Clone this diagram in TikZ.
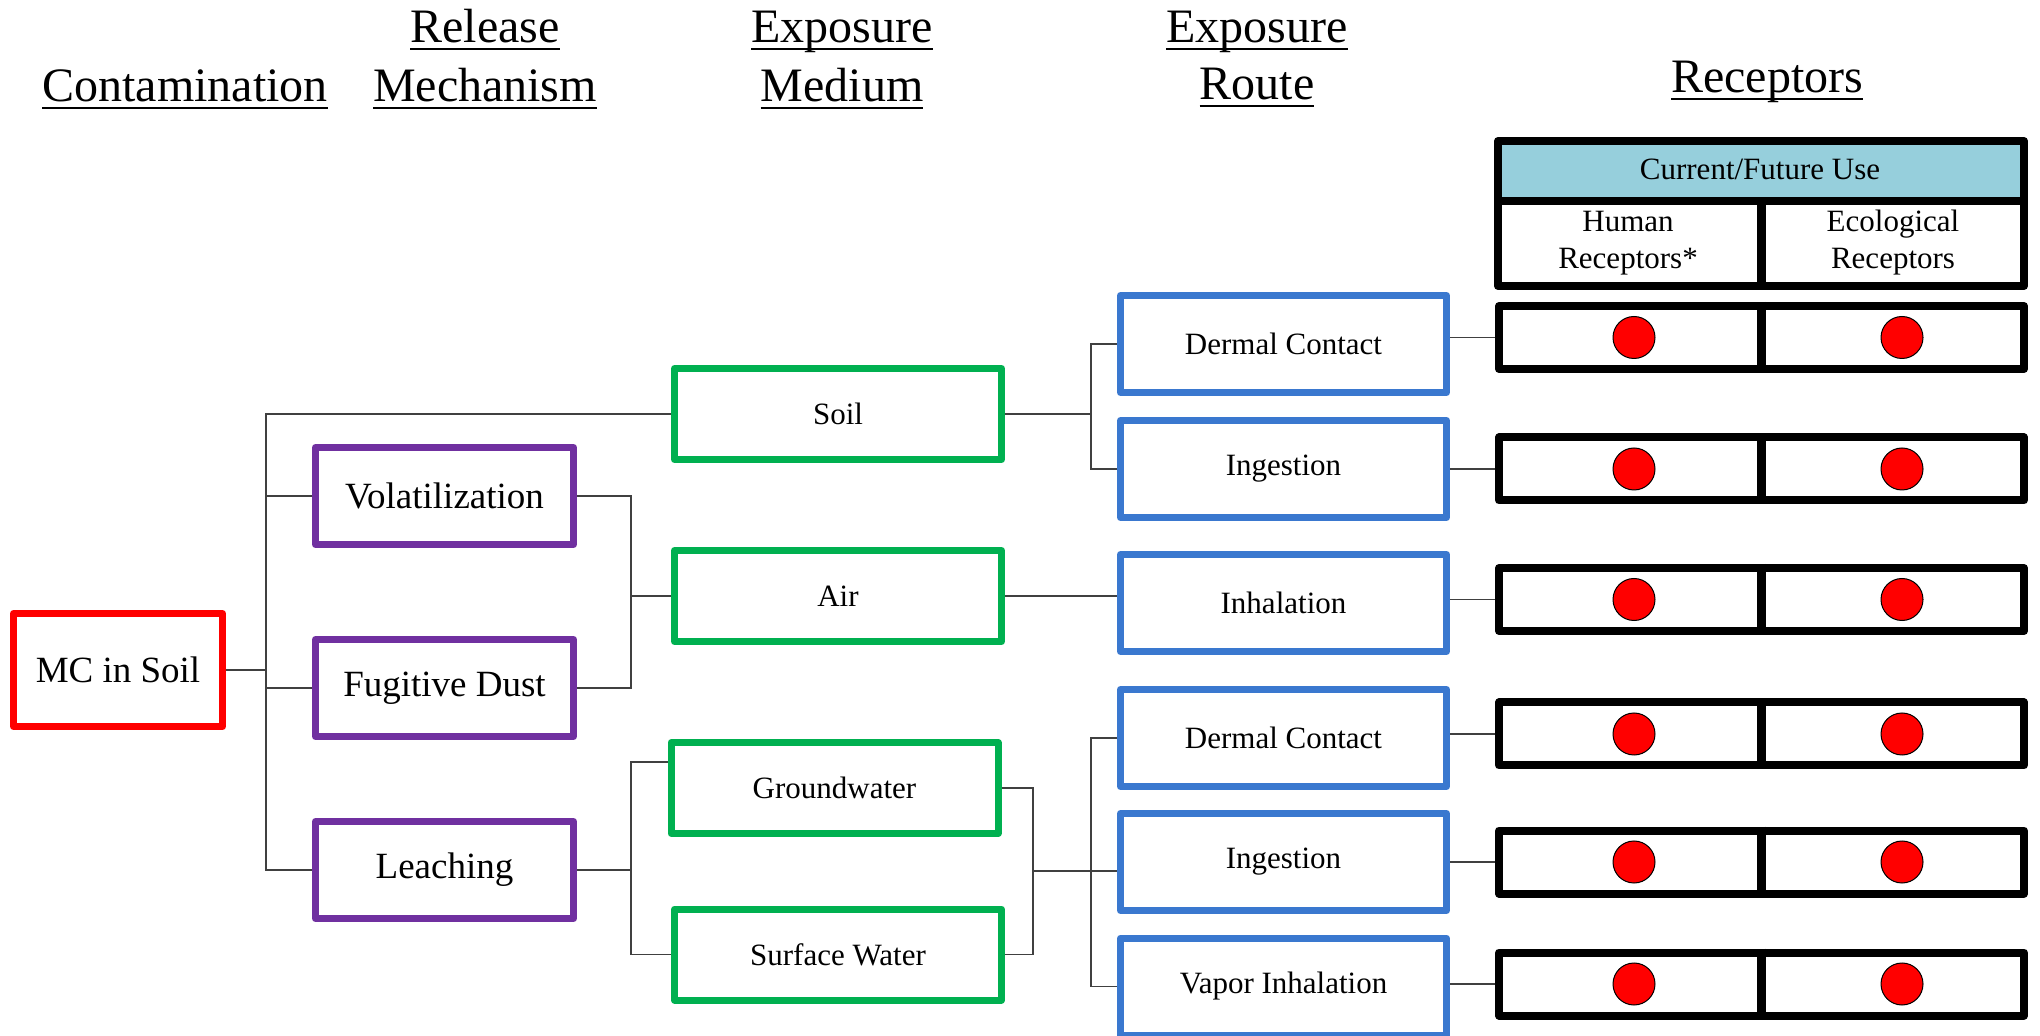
\documentclass[tikz,border=0pt]{standalone}
\usepackage{fontspec}
\setmainfont{Liberation Serif}
\newfontfamily\tnr{Liberation Serif}
\usetikzlibrary{calc}
\definecolor{cred}{HTML}{FF0000}
\definecolor{cpurple}{HTML}{7030A0}
\definecolor{cgreen}{HTML}{00B050}
\definecolor{cblue}{HTML}{3A78CF}
\definecolor{clight}{HTML}{96CFDC}
\newcommand\ulc[1]{\setbox0\hbox{#1}\rlap{\rule[-3.5pt]{\wd0}{1pt}}\box0}
\tikzset{
  title/.style={anchor=base, inner sep=0pt, font=\tnr\fontsize{24}{28}\selectfont},
  small/.style={anchor=base, inner sep=0pt, font=\tnr\fontsize{15.5}{18}\selectfont},
  box/.style={draw, line width=3.5pt, line join=round, fill=white, inner sep=0pt, align=center},
  contbox/.style={box, draw=cred, minimum width=104.5pt, minimum height=56.5pt, font=\tnr\fontsize{18.5}{22}\selectfont},
  relbox/.style={box, draw=cpurple, minimum width=129pt, minimum height=48.5pt, font=\tnr\fontsize{18.5}{22}\selectfont},
  medbox/.style={box, draw=cgreen, minimum width=163.5pt, minimum height=45.5pt, font=\tnr\fontsize{15.5}{18}\selectfont},
  routebox/.style={box, draw=cblue, minimum width=163pt, minimum height=48.5pt, font=\tnr\fontsize{15.5}{18}\selectfont},
  rowbox/.style={draw=black, line width=4pt, line join=round, inner sep=0pt, minimum width=262.5pt, minimum height=31.5pt},
  dot/.style={circle, draw=black, line width=0.5pt, fill=cred, minimum size=21pt, inner sep=0pt},
  conn/.style={draw=black!75, line width=0.7pt},
}
\begin{document}
\begin{tikzpicture}[x=0.5pt, y=-0.5pt]
\useasboundingbox (0,0) rectangle (2040,1036);

% titles
\node[title] (tcont) at (185,102) {\ulc{Contamination}};
\node[title] (trel1) at (485,43) {\ulc{Release}};
\node[title] (trel2) at (485,102) {\ulc{Mechanism}};
\node[title] (tmed1) at (842,43) {\ulc{Exposure}};
\node[title] (tmed2) at (842,102) {\ulc{Medium}};
\node[title] (trt1) at (1257,43) {\ulc{Exposure}};
\node[title] (trt2) at (1257,100) {\ulc{Route}};
\node[title] (trec) at (1767,93) {\ulc{Receptors}};

% boxes
\node[contbox] (mc) at (118,670) {MC in Soil};
\node[relbox] (vol) at (444.5,496) {Volatilization};
\node[relbox] (fug) at (444.5,688) {Fugitive Dust};
\node[relbox] (lea) at (444.5,870) {Leaching};
\node[medbox] (soil) at (838,414) {Soil};
\node[medbox] (air) at (838,596) {Air};
\node[medbox] (gw) at (834.5,788) {Groundwater};
\node[medbox] (sw) at (838,954.5) {Surface Water};
\node[routebox] (dc1) at (1283.5,344) {Dermal Contact};
\node[routebox] (ing1) at (1283.5,469) {Ingestion};
\node[routebox] (inh) at (1283.5,603) {Inhalation};
\node[routebox] (dc2) at (1283.5,738) {Dermal Contact};
\node[routebox] (ing2) at (1283.5,862) {Ingestion};
\node[routebox] (vap) at (1283.5,986.5) {Vapor Inhalation};

% receptor header
\fill[clight] (1498,141) rectangle (2024,201.5);
\draw[line width=4pt, line join=round] (1498,141) rectangle (2024,286);
\draw[line width=4pt] (1498,201.5) -- (2024,201.5);
\draw[line width=4.5pt] (1761,201.5) -- (1761,286);
\node[small] (cur) at (1760,180) {Current/Future Use};
\node[small] (hum1) at (1628,232) {Human};
\node[small] (hum2) at (1628,269) {Receptors*};
\node[small] (eco1) at (1893,232) {Ecological};
\node[small] (eco2) at (1893,269) {Receptors};

% receptor rows
\foreach \n/\y in {r1/337.5, r2/469, r3/599.5, r4/734, r5/862, r6/984}{
  \node[rowbox] (\n) at (1761.5,\y) {};
  \draw[line width=4.5pt] (\n.north) -- (\n.south);
  \node[dot] (\n h) at (1634,\y) {};
  \node[dot] (\n e) at (1902,\y) {};
}

% connectors
\coordinate (tr) at (266,670);
\draw[conn] (mc.east) -- (tr);
\draw[conn] (soil.west) -| (tr) |- (lea.west);
\draw[conn] (vol.west) -- (vol.west -| tr);
\draw[conn] (fug.west) -- (fug.west -| tr);

\coordinate (j1) at (631,596);
\draw[conn] (vol.east) -| (j1) |- (fug.east);
\draw[conn] (j1) -- (air.west);

\coordinate (j2) at (631,870);
\coordinate (gwc) at ($(gw.west)+(0,-26)$);
\draw[conn] (lea.east) -- (j2);
\draw[conn] (gwc) -| (j2) |- (sw.west);

\coordinate (j3) at (1033,871);
\draw[conn] (gw.east) -| (j3) |- (sw.east);
\draw[conn] (j3) -- (j3 -| ing2.west);
\coordinate (k2) at (1091,871);
\draw[conn] (dc2.west) -| (k2) |- (vap.west);

\coordinate (k1) at (1091,414);
\draw[conn] (soil.east) -- (k1);
\draw[conn] (dc1.west) -| (k1) |- (ing1.west);

\draw[conn] (air.east) -- (air.east -| inh.west);

\draw[conn] (r1.west) -- (r1.west -| dc1.east);
\draw[conn] (r2.west) -- (r2.west -| ing1.east);
\draw[conn] (r3.west) -- (r3.west -| inh.east);
\draw[conn] (r4.west) -- (r4.west -| dc2.east);
\draw[conn] (r5.west) -- (r5.west -| ing2.east);
\draw[conn] (r6.west) -- (r6.west -| vap.east);
\end{tikzpicture}
\end{document}
